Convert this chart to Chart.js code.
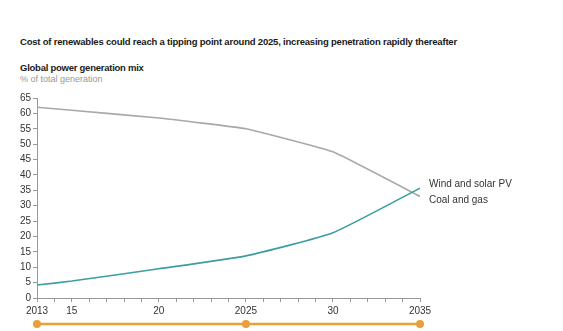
<!DOCTYPE html>
<html lang="en">
<head>
<meta charset="UTF-8">
<title>Global power generation mix</title>
<script src="https://cdn.jsdelivr.net/npm/chart.js"></script>
<style>
  html, body { margin: 0; padding: 0; background: #fff; }
  body {
    width: 563px; height: 331px; position: relative; overflow: hidden;
    font-family: 'Liberation Sans', Arial, sans-serif;
  }
  .headline { position: absolute; left: 20px; top: 36px; font-size: 9.5px; letter-spacing: -0.2px; font-weight: bold; color: #1a1a1a; white-space: nowrap; }
  .chart-title { position: absolute; left: 20px; top: 62px; font-size: 9.5px; letter-spacing: -0.25px; font-weight: bold; color: #1a1a1a; }
  .chart-unit { position: absolute; left: 20px; top: 74px; font-size: 9px; color: #999; }
  #mix { position: absolute; left: 0; top: 0; }
</style>
</head>
<body>
  <div class="headline">Cost of renewables could reach a tipping point around 2025, increasing penetration rapidly thereafter</div>
  <div class="chart-title">Global power generation mix</div>
  <div class="chart-unit">% of total generation</div>
  <canvas id="mix" width="563" height="331"></canvas>

<script>
  // values read per year, % of total generation
  const years = [2013, 2015, 2020, 2025, 2030, 2035];
  const windSolar = [4.2, 5.5, 9.5, 13.7, 21.2, 35.7];
  const coalGas = [62, 61, 58.5, 55, 47.5, 33];

  // x axis labels only on these years, the rest get a bare tick
  const yearLabels = { 2013: '2013', 2015: '15', 2020: '20', 2025: '2025', 2030: '30', 2035: '2035' };
  const milestoneYears = [2013, 2025, 2035];

  const FONT = "'Liberation Sans', Arial, sans-serif";

  function toPoints(vals) {
    return years.map((y, i) => ({ x: y, y: vals[i] }));
  }

  // series name written just right of the last point
  const endLabels = {
    id: 'endLabels',
    afterDatasetsDraw(chart) {
      const ctx = chart.ctx;
      ctx.save();
      ctx.font = '10px ' + FONT;
      ctx.fillStyle = '#333';
      ctx.textBaseline = 'middle';
      chart.data.datasets.forEach((ds, i) => {
        const pts = chart.getDatasetMeta(i).data;
        const last = pts[pts.length - 1];
        ctx.fillText(ds.label, last.x + 9, last.y + ds.labelShift);
      });
      ctx.restore();
    }
  };

  // orange timeline under the x axis
  const timeline = {
    id: 'timeline',
    afterDraw(chart) {
      const ctx = chart.ctx;
      const xs = chart.scales.x;
      const y = 324;
      const px = milestoneYears.map(v => xs.getPixelForValue(v));
      ctx.save();
      ctx.strokeStyle = '#e8a03a';
      ctx.fillStyle = '#e8a03a';
      ctx.lineWidth = 2.5;
      ctx.beginPath();
      ctx.moveTo(px[0], y);
      ctx.lineTo(px[px.length - 1], y);
      ctx.stroke();
      px.forEach(p => {
        ctx.beginPath();
        ctx.arc(p, y, 4, 0, Math.PI * 2);
        ctx.fill();
      });
      ctx.restore();
    }
  };

  new Chart(document.getElementById('mix'), {
    type: 'line',
    data: {
      datasets: [
        {
          label: 'Wind and solar PV',
          data: toPoints(windSolar),
          borderColor: '#3d9d9f',
          borderWidth: 1.6,
          pointRadius: 0,
          tension: 0.15,
          labelShift: -4
        },
        {
          label: 'Coal and gas',
          data: toPoints(coalGas),
          borderColor: '#a8a8a8',
          borderWidth: 1.6,
          pointRadius: 0,
          tension: 0.1,
          labelShift: 4
        }
      ]
    },
    options: {
      responsive: false,
      animation: false,
      layout: { padding: { top: 98, right: 143, left: 0, bottom: 0 } },
      plugins: {
        legend: { display: false },
        tooltip: { enabled: false }
      },
      scales: {
        x: {
          type: 'linear',
          min: 2013,
          max: 2035,
          afterFit: s => { s.height = 33; },
          grid: { drawOnChartArea: false, tickLength: 4, color: '#999' },
          border: { color: '#999' },
          ticks: {
            stepSize: 1,
            autoSkip: false,
            maxRotation: 0,
            padding: 3,
            color: '#333',
            font: { family: FONT, size: 10 },
            callback: v => yearLabels[v] || ''
          }
        },
        y: {
          min: 0,
          max: 65,
          afterFit: s => { s.width = 37; },
          grid: { drawOnChartArea: false, tickLength: 4, color: '#999' },
          border: { color: '#999' },
          ticks: {
            stepSize: 5,
            padding: 2,
            color: '#333',
            font: { family: FONT, size: 10 }
          }
        }
      }
    },
    plugins: [endLabels, timeline]
  });
</script>
</body>
</html>
